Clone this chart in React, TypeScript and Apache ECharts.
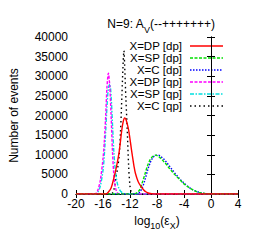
import React, { useEffect, useRef } from "react";
import * as echarts from "echarts";

const seriesNames = ["X=DP [dp]", "X=SP [dp]", "X=C [dp]", "X=DP [qp]", "X=SP [qp]", "X=C [qp]"];
const seriesColors = ["#ff0000", "#00e000", "#0000ff", "#ff00ff", "#00e0e0", "#000000"];
const seriesDash: (number[] | null)[] = [null, [3, 1.5], [1.5, 1.5], [3, 1.5], [4, 1.5, 1.5, 1.5], [1.5, 3]];

const dpDPx = [-20, -15.6, -15.2, -14.8, -14.4, -14.0, -13.6, -13.2, -13.0, -12.8, -12.6, -12.4, -12.2, -12.0, -11.8, -11.6, -11.4, -11.2, -10.8, -10.4, -10.0, -9.6, -9.2, -8.8, -8.0, 4];
const dpDPy = [0, 0, 500, 1500, 4000, 7000, 10800, 16500, 18500, 19400, 19000, 17800, 16300, 14000, 11500, 9200, 7000, 5300, 3200, 2000, 1100, 500, 200, 50, 0, 0];

const dpSPx = [-20, -11.4, -11.0, -10.6, -10.2, -9.8, -9.4, -9.0, -8.6, -8.2, -7.8, -7.4, -7.0, -6.6, -6.2, -5.8, -5.4, -5.0, -4.6, -4.2, -3.8, -3.4, -3.0, -2.6, -2.2, -1.8, -1.4, -1.0, -0.6, 0, 1, 4];
const dpSPy = [0, 0, 300, 1000, 2800, 5000, 7200, 8800, 9600, 9900, 9600, 9000, 8300, 7500, 6600, 5800, 5000, 4300, 3600, 2900, 2300, 1800, 1350, 950, 650, 420, 250, 130, 60, 20, 0, 0];

const dpCx = [-20, -11.0, -10.6, -10.2, -9.8, -9.4, -9.0, -8.6, -8.2, -7.8, -7.4, -7.0, -6.6, -6.2, -5.8, -5.4, -5.0, -4.6, -4.2, -3.8, -3.4, -3.0, -2.6, -2.2, -1.8, -1.4, -1.0, -0.6, 0, 1, 4];
const dpCy = [0, 0, 400, 1500, 3500, 6000, 8000, 9300, 9850, 9900, 9500, 8900, 8100, 7200, 6300, 5400, 4600, 3800, 3100, 2450, 1900, 1400, 1000, 700, 450, 280, 150, 70, 20, 0, 0];

const qpDPx = [-20, -17.2, -16.8, -16.4, -16.0, -15.8, -15.6, -15.4, -15.2, -15.0, -14.8, -14.6, -14.4, -14.2, -14.0, -13.8, -13.4, 4];
const qpDPy = [0, 0, 800, 3500, 9000, 13500, 20000, 27500, 30750, 27500, 20000, 11000, 5000, 2000, 700, 200, 0, 0];

const qpSPx = [-20, -17.2, -16.8, -16.4, -16.0, -15.8, -15.6, -15.4, -15.2, -15.0, -14.8, -14.6, -14.4, -14.2, -14.0, -13.8, -13.6, -13.4, -13.0, -12.6, 4];
const qpSPy = [0, 0, 400, 2000, 6000, 10000, 16000, 22500, 27000, 28000, 25000, 18000, 11000, 6500, 3800, 2200, 1300, 700, 200, 0, 0];

const qpCx = [-20, -14.8, -14.4, -14.1, -13.8, -13.6, -13.4, -13.2, -13.0, -12.9, -12.8, -12.6, -12.4, -12.2, -12.0, -11.8, -11.4, 4];
const qpCy = [0, 0, 1000, 4000, 7000, 10000, 16000, 25000, 34000, 36500, 33000, 24000, 16000, 7000, 2000, 500, 0, 0];

const seriesX = [dpDPx, dpSPx, dpCx, qpDPx, qpSPx, qpCx];
const seriesY = [dpDPy, dpSPy, dpCy, qpDPy, qpSPy, qpCy];

const titleText = "N=9: A{sub|V}(--+++++++)";
const xName = "log{sub|10}(ε{sub|X})";
const yName = "Number of events";

const FONT = "Liberation Sans, Arial, sans-serif";

export default function App() {
  const ref = useRef<HTMLDivElement>(null);
  useEffect(() => {
    if (!ref.current) return;
    const chart = echarts.init(ref.current, null, { renderer: "svg" });
    const richStyle = {
      base: { fontSize: 12, fontFamily: FONT, color: "#000", lineHeight: 14, verticalAlign: "top" },
      sub: { fontSize: 9, fontFamily: FONT, color: "#000", lineHeight: 9, padding: [7, 0, 0, 0], verticalAlign: "top" },
    };
    const wrapBase = (s: string) =>
      s.split(/(\{sub\|[^}]*\})/).filter((t) => t.length).map((t) => (t.startsWith("{sub|") ? t : `{base|${t}}`)).join("");

    const series = seriesNames.map((name, i) => ({
      name,
      type: "line",
      data: seriesX[i].map((x, j) => [x, seriesY[i][j]]),
      showSymbol: false,
      smooth: 0.3,
      lineStyle: { color: seriesColors[i], width: 1.4, type: seriesDash[i] ?? "solid" },
      z: 10 - i,
    }));

    const legendGraphics: any[] = [];
    seriesNames.forEach((name, i) => {
      const y = 46 + i * 12;
      legendGraphics.push({
        type: "text",
        x: 182,
        y,
        style: { text: name, fill: "#000", font: `11.5px ${FONT}`, lineHeight: 11, textAlign: "right", textVerticalAlign: "middle" },
      });
      legendGraphics.push({
        type: "line",
        shape: { x1: 190, y1: y, x2: 223, y2: y },
        style: { stroke: seriesColors[i], lineWidth: 1.4, lineDash: seriesDash[i] ?? undefined },
      });
    });

    const axisCommon = {
      type: "value",
      axisLine: { show: true, lineStyle: { color: "#000", width: 1 } },
      axisTick: { show: true, inside: true, length: 4, lineStyle: { color: "#000" } },
      splitLine: { show: false },
    };

    chart.setOption({
      animation: false,
      backgroundColor: "#fff",
      title: {
        text: wrapBase(titleText),
        left: 156,
        textAlign: "center",
        top: 13,
        textStyle: { rich: richStyle, fontSize: 12, fontWeight: "normal" },
      },
      grid: { left: 75, right: 20, top: 37, bottom: 48, containLabel: false },
      xAxis: [
        {
          ...axisCommon,
          min: -20,
          max: 4,
          interval: 4,
          position: "bottom",
          axisLabel: { color: "#000", fontSize: 12, fontFamily: FONT, margin: 4 },
          name: wrapBase(xName),
          nameLocation: "middle",
          nameGap: 18,
          nameTextStyle: { rich: richStyle },
        },
        {
          ...axisCommon,
          min: -20,
          max: 4,
          interval: 4,
          position: "top",
          axisLabel: { show: false },
        },
      ],
      yAxis: [
        {
          ...axisCommon,
          min: 0,
          max: 40000,
          interval: 5000,
          position: "left",
          axisLabel: { color: "#000", fontSize: 12, fontFamily: FONT, margin: 8, formatter: (v: number) => String(v) },
          name: yName,
          nameLocation: "middle",
          nameGap: 56,
          nameTextStyle: { color: "#000", fontSize: 12, fontFamily: FONT },
        },
        {
          ...axisCommon,
          min: 0,
          max: 40000,
          interval: 5000,
          position: "right",
          axisLabel: { show: false },
        },
      ],
      series,
      graphic: legendGraphics,
    });
    return () => chart.dispose();
  }, []);
  return <div ref={ref} style={{ width: 258, height: 242, position: "absolute", left: 0, top: 0 }} />;
}
